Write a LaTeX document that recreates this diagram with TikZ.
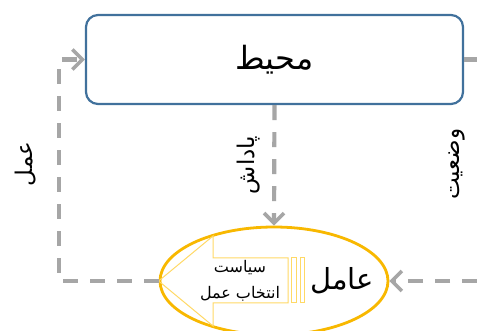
\documentclass[tikz,border=0pt]{standalone}
\usepackage{fontspec}
\usetikzlibrary{arrows.meta,shapes.geometric}
\newfontfamily\arabicfont[Script=Arabic]{DejaVu Sans}
\TeXXeTstate=1
\definecolor{boxblue}{HTML}{41719C}
\definecolor{flowgray}{HTML}{A6A6A6}
\definecolor{agentorange}{HTML}{F8B800}
\definecolor{arrowyellow}{HTML}{FFD966}
\tikzset{
  flow/.style={draw=flowgray, line width=4.2pt, dash pattern=on 15pt off 12pt},
  flowarrow/.style={flow, -{Straight Barb[length=10pt,width=20pt,line width=3.6pt]}},
  lbl/.style={font=\arabicfont\fontsize{23}{26}\selectfont, rotate=90, inner sep=0pt},
}
\begin{document}
\begin{tikzpicture}[x=1pt,y=-1pt]
\useasboundingbox (0,0) rectangle (477,331);
\fill[white] (0,0) rectangle (477,331);
% environment box
\node[draw=boxblue, line width=2.2pt, rounded corners=12pt, minimum width=377pt, minimum height=89pt, fill=white,
  font=\arabicfont\fontsize{32}{36}\selectfont] (env) at (274.5,59.5) {\beginR محیط\endR};
% agent ellipse
\node[draw=agentorange, line width=2.8pt, ellipse, minimum width=228pt, minimum height=108pt, inner sep=0pt, fill=white] (agent) at (274,281) {};
% block arrow inside
\begin{scope}[draw=arrowyellow, line width=1pt]
\draw (agent.west) -- (213,236) -- (213,258) -- (288,258) -- (288,303) -- (213,303) -- (213,326) -- cycle;
\draw (291,258) rectangle (296,303);
\draw (300,258) rectangle (304,303);
\end{scope}
\node[font=\arabicfont\fontsize{16}{18}\selectfont, inner sep=0pt] (pol1) at (240,268) {\beginR سیاست\endR};
\node[font=\arabicfont\fontsize{16}{18}\selectfont, inner sep=0pt] (pol2) at (240,294) {\beginR انتخاب عمل\endR};
\node[font=\arabicfont\fontsize{29}{32}\selectfont, inner sep=0pt] (agentlbl) at (342,281) {\beginR عامل\endR};
% coordinates
\coordinate (lb) at (59,281);
\coordinate (lt) at (59,59.5);
\coordinate (rt) at (477,59.5);
\coordinate (rb) at (477,281);
% connectors
\draw[flowarrow] (agent.west) -- (lb) -- (lt) -- (env.west);
\draw[flowarrow] (env.south) -- (agent.north);
\draw[draw=flowgray, line width=4.2pt] (env.east) -- (rt);
\draw[flowarrow] (rb) -- (agent.east);
% labels
\node[lbl] (act) at (26,164) {\beginR عمل\endR};
\node[lbl] (rew) at (249,165) {\beginR پاداش\endR};
\node[lbl] (state) at (457,164) {\beginR وضعیت\endR};
\end{tikzpicture}
\end{document}
